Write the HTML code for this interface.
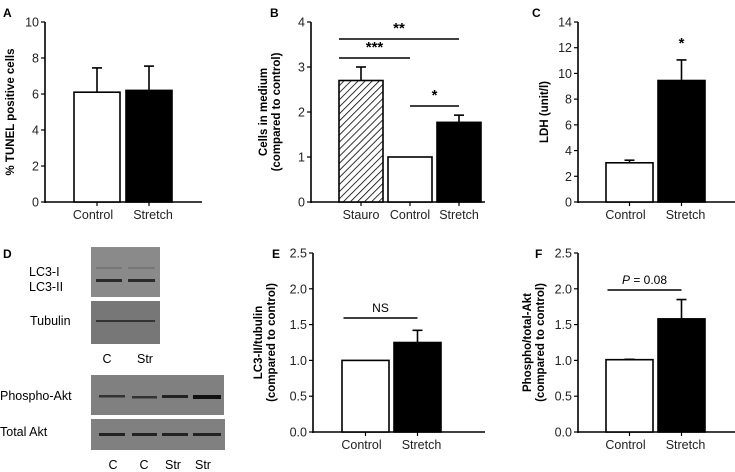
<!DOCTYPE html>
<html><head><meta charset="utf-8"><style>
body{margin:0;background:#fff;}
svg{display:block;font-family:"Liberation Sans",Arial,sans-serif;}
</style></head><body>
<svg id="fig" width="735" height="472" viewBox="0 0 735 472">
<defs><pattern id="hatch" width="5" height="5" patternUnits="userSpaceOnUse" patternTransform="rotate(45)"><rect width="5" height="5" fill="#fff"/><line x1="0" y1="0" x2="0" y2="5" stroke="#000" stroke-width="1.6"/></pattern></defs>
<!-- Panel D blots -->
<g>
<text x="3" y="258" font-size="12" font-weight="bold">D</text>
<rect x="91" y="247" width="69" height="50" fill="#8a8a8a"/>
<rect x="96" y="267" width="26" height="2" fill="#777"/><rect x="128" y="267" width="27" height="2" fill="#777"/>
<rect x="96" y="279" width="26" height="3" fill="#2a2a2a"/><rect x="128" y="279" width="27" height="3" fill="#2a2a2a"/>
<rect x="91" y="301" width="69" height="43" fill="#777"/>
<rect x="96" y="320" width="59" height="2" fill="#333"/>
<text x="29" y="276" font-size="12.5">LC3-I</text>
<text x="29" y="291" font-size="12.5">LC3-II</text>
<text x="30" y="325" font-size="12.5">Tubulin</text>
<text x="107" y="363" font-size="12.5" text-anchor="middle">C</text>
<text x="145" y="363" font-size="12.5" text-anchor="middle">Str</text>
<rect x="91" y="375" width="133" height="40" fill="#808080"/>
<rect x="99" y="395" width="26" height="2.5" fill="#333"/><rect x="132" y="396" width="25" height="2.5" fill="#333"/><rect x="162" y="395" width="26" height="3" fill="#222"/><rect x="193" y="395" width="28" height="4" fill="#111"/>
<rect x="91" y="419" width="134" height="31" fill="#808080"/>
<rect x="99" y="433" width="26" height="3" fill="#222"/><rect x="132" y="433" width="25" height="3" fill="#222"/><rect x="162" y="433" width="26" height="3" fill="#222"/><rect x="193" y="433" width="28" height="3" fill="#222"/>
<text x="0" y="400" font-size="12.5">Phospho-Akt</text>
<text x="0" y="436" font-size="12.5">Total Akt</text>
<text x="113" y="469" font-size="12.5" text-anchor="middle">C</text>
<text x="144" y="469" font-size="12.5" text-anchor="middle">C</text>
<text x="173" y="469" font-size="12.5" text-anchor="middle">Str</text>
<text x="203" y="469" font-size="12.5" text-anchor="middle">Str</text>
</g>
</svg>
<script>
const aCats=["Control","Stretch"], aVals=[6.1,6.2], aErr=[1.35,1.35], aTicks=[0,2,4,6,8,10];
const bCats=["Stauro","Control","Stretch"], bVals=[2.7,1.0,1.77], bErr=[0.3,0,0.16], bTicks=[0,1,2,3,4];
const cCats=["Control","Stretch"], cVals=[3.05,9.45], cErr=[0.2,1.6], cTicks=[0,2,4,6,8,10,12,14];
const eCats=["Control","Stretch"], eVals=[1.0,1.25], eErr=[0,0.17], eTicks=["0.0","0.5","1.0","1.5","2.0","2.5"];
const fCats=["Control","Stretch"], fVals=[1.01,1.58], fErr=[0.005,0.27], fTicks=["0.0","0.5","1.0","1.5","2.0","2.5"];
const NS="http://www.w3.org/2000/svg", svg=document.getElementById("fig");
function mk(t,a,p){const e=document.createElementNS(NS,t);for(const k in a)e.setAttribute(k,a[k]);(p||svg).appendChild(e);return e;}
function panel(o){
  const g=mk("g",{});
  
  
  const max=parseFloat(o.ticks[o.ticks.length-1]);
  const y=v=>o.y0-(v/max)*(o.y0-o.y1);
  const x=i=>o.bx+i*(o.bw+o.gap);
  mk("line",{x1:o.ax,y1:o.y1,x2:o.ax,y2:o.y0+1,stroke:"#000","stroke-width":1.6},g);
  mk("line",{x1:o.ax,y1:o.y0,x2:o.xend,y2:o.y0,stroke:"#000","stroke-width":1.6},g);
  o.ticks.forEach(t=>{const v=parseFloat(t),yy=y(v);
    mk("line",{x1:o.ax-4,y1:yy,x2:o.ax,y2:yy,stroke:"#000","stroke-width":1.2},g);
    const tx=mk("text",{x:o.ax-6,y:yy+4.5,"font-size":12.5,"text-anchor":"end",fill:"#222"},g);tx.textContent=t;
    
    });
  o.vals.forEach((v,i)=>{const bx=x(i);
    const r=mk("rect",{x:bx,y:y(v),width:o.bw,height:o.y0-y(v),fill:o.fills[i],stroke:"#000","stroke-width":1.6},g);
    
    
    const cx=bx+o.bw/2;
    if(o.err[i]>0){mk("line",{x1:cx,y1:y(v),x2:cx,y2:y(v+o.err[i]),stroke:"#000","stroke-width":1.6},g);
      mk("line",{x1:cx-5,y1:y(v+o.err[i]),x2:cx+5,y2:y(v+o.err[i]),stroke:"#000","stroke-width":1.6},g);}
    mk("line",{x1:cx,y1:o.y0,x2:cx,y2:o.y0+4,stroke:"#000","stroke-width":1.2},g);
    const tl=mk("text",{x:cx+(o.cats.length==2?(i==0?-4:4):0),y:o.y0+17,"font-size":12.5,"text-anchor":"middle",fill:"#222"},g);tl.textContent=o.cats[i];
    
    });
  const lb=mk("text",{x:o.lx,y:o.ly,"font-size":12,"font-weight":"bold"},g);lb.textContent=o.label;
  
  
  const cy=(o.y0+o.y1)/2;
  o.title.forEach((t,k)=>{const tx=o.tx+k*13;
    const tt=mk("text",{x:tx,y:cy,"font-size":11.5,"font-weight":"bold","text-anchor":"middle",transform:`rotate(-90 ${tx} ${cy})`},g);tt.textContent=t;
    
    });
  return {g,y,x,cx:i=>x(i)+o.bw/2};
}
function sig(p,i,j,yy,txt,ital){
  mk("line",{x1:p.cx(i)-(i==0?22:0),y1:yy,x2:p.cx(j),y2:yy,stroke:"#000","stroke-width":1.4},p.g);
  const t=mk("text",{x:(p.cx(i)-(i==0?22:0)+p.cx(j))/2,y:yy-6,"font-size":txt.startsWith("*")?15:12,"font-weight":txt.startsWith("*")?"bold":"normal","text-anchor":"middle"},p.g);
  if(ital){t.innerHTML='<tspan font-style="italic">P</tspan> = 0.08';}else t.textContent=txt;
  
  
}
const pA=panel({name:"panel-a-tunel",label:"A",lx:3,ly:17,ax:45,xend:202,y0:202,y1:22,bx:74,bw:46,gap:6,cats:aCats,vals:aVals,err:aErr,ticks:aTicks,fills:["#fff","#000"],title:["% TUNEL positive cells"],tx:14});
const pB=panel({name:"panel-b-cells-in-medium",label:"B",lx:270,ly:17,ax:311,xend:485,y0:202,y1:22,bx:339,bw:44,gap:5,cats:bCats,vals:bVals,err:bErr,ticks:bTicks,fills:["url(#hatch)","#fff","#000"],title:["Cells in medium","(compared to control)"],tx:267});
sig(pB,0,2,39,"**");sig(pB,0,1,58,"***");sig(pB,1,2,106,"*");
const pC=panel({name:"panel-c-ldh",label:"C",lx:532,ly:17,ax:578,xend:735,y0:202,y1:22,bx:606,bw:47,gap:5,cats:cCats,vals:cVals,err:cErr,ticks:cTicks,fills:["#fff","#000"],title:["LDH (unit/l)"],tx:548});
const st=mk("text",{x:pC.cx(1),y:pC.y(cVals[1]+cErr[1])-12,"font-size":15,"font-weight":"bold","text-anchor":"middle"},pC.g);st.textContent="*";


const pE=panel({name:"panel-e-lc3",label:"E",lx:272,ly:258,ax:313,xend:485,y0:432,y1:253,bx:342,bw:47,gap:5,cats:eCats,vals:eVals,err:eErr,ticks:eTicks,fills:["#fff","#000"],title:["LC3-II/tubulin","(compared to control)"],tx:262});
sig(pE,0,1,318,"NS");
const pF=panel({name:"panel-f-akt",label:"F",lx:535,ly:258,ax:578,xend:735,y0:432,y1:253,bx:606,bw:47,gap:5,cats:fCats,vals:fVals,err:fErr,ticks:fTicks,fills:["#fff","#000"],title:["Phospho/total-Akt","(compared to control)"],tx:531});
sig(pF,0,1,290,"P = 0.08",true);
</script>
</body></html>
